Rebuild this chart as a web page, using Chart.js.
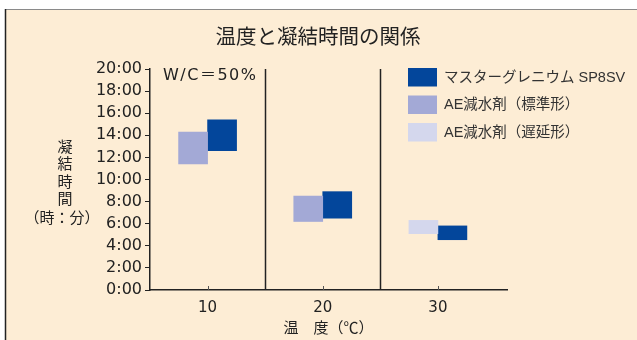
<!DOCTYPE html>
<html>
<head>
<meta charset="utf-8">
<script src="https://cdn.jsdelivr.net/npm/chart.js@4"></script>
<style>
  html, body { margin: 0; padding: 0; background: #fff; }
  #wrap { width: 637px; height: 340px; }
</style>
</head>
<body>
<div id="wrap"><canvas id="setChart" width="637" height="340"></canvas></div>
<script>
// temperatures (°C)
const temps = [10, 20, 30];
// setting time ranges [start, end] in hours
const sp8svData = [[12.6, 15.4], [6.5, 8.9], [4.55, 5.8]];
const aeStdData = [[11.4, 14.3], [6.2, 8.5], null];
const aeRetData = [null, null, [5.1, 6.3]];
const yTicks = [0, 2, 4, 6, 8, 10, 12, 14, 16, 18, 20];

const JP = '"Noto Sans CJK JP", sans-serif';
const NUM = '"Liberation Sans", "Noto Sans CJK JP", sans-serif';
const WIDE = '"DejaVu Sans", "Noto Sans CJK JP", sans-serif';
const BG = '#fdedd5';

const toPoints = arr => arr
    .map((v, i) => v ? { x: temps[i], y: v } : null)
    .filter(p => p);

// page background + frame
const framePlugin = {
    id: 'frame',
    beforeDraw(chart) {
        const ctx = chart.ctx;
        ctx.save();
        ctx.fillStyle = '#fff';
        ctx.fillRect(0, 0, chart.width, chart.height);
        ctx.fillStyle = BG;
        ctx.fillRect(5, 9, chart.width - 5, chart.height - 9);
        ctx.strokeStyle = '#8a8a8a';
        ctx.lineWidth = 1;
        ctx.beginPath();
        ctx.moveTo(5, 9.5);
        ctx.lineTo(chart.width, 9.5);
        ctx.stroke();
        ctx.strokeStyle = '#222';
        ctx.lineWidth = 1.5;
        ctx.beginPath();
        ctx.moveTo(5.5, 9);
        ctx.lineTo(5.5, chart.height);
        ctx.stroke();
        ctx.restore();
    }
};

// separators, inner ticks, titles, legend
const decorPlugin = {
    id: 'decor',
    afterDraw(chart) {
        const ctx = chart.ctx;
        const xs = chart.scales.x;
        const area = chart.chartArea;
        ctx.save();
        ctx.strokeStyle = '#222';
        ctx.lineWidth = 1.5;
        for (let i = 0; i < temps.length - 1; i++) {
            const px = Math.round(xs.getPixelForValue((temps[i] + temps[i + 1]) / 2)) + 0.5;
            ctx.beginPath();
            ctx.moveTo(px, area.top);
            ctx.lineTo(px, area.bottom);
            ctx.stroke();
        }
        ctx.lineWidth = 1;
        ctx.strokeStyle = '#555';
        temps.forEach(t => {
            const px = Math.round(xs.getPixelForValue(t)) + 0.5;
            ctx.beginPath();
            ctx.moveTo(px, area.bottom);
            ctx.lineTo(px, area.bottom - 4);
            ctx.stroke();
        });

        ctx.fillStyle = '#222';
        ctx.textAlign = 'center';
        ctx.textBaseline = 'middle';
        ctx.font = '20.5px ' + JP;
        ctx.fillText('温度と凝結時間の関係', 318, 36);

        ctx.font = '16px ' + WIDE;
        ctx.textAlign = 'left';
        ctx.letterSpacing = '1.5px';
        ctx.fillText('W/C＝50%', 163, 76);
        ctx.letterSpacing = '0px';

        ctx.font = '15px ' + JP;
        ctx.textAlign = 'center';
        ['凝', '結', '時', '間'].forEach((c, i) => ctx.fillText(c, 65, 146 + i * 17.5));
        ctx.fillText('（時：分）', 62, 217);

        // legend
        ctx.font = '14.5px ' + NUM;
        ctx.textAlign = 'left';
        chart.data.datasets.forEach((ds, i) => {
            const y = 68 + i * 27.5;
            ctx.fillStyle = ds.backgroundColor;
            ctx.fillRect(408, y, 29, 18.5);
            ctx.fillStyle = '#333';
            ctx.fillText(ds.label, 444, y + 9.5);
        });
        ctx.restore();
    }
};

new Chart(document.getElementById('setChart'), {
    type: 'bar',
    data: {
        datasets: [
            {
                label: 'マスターグレニウム SP8SV',
                data: toPoints(sp8svData),
                backgroundColor: '#03469b',
                stack: 'sp',
                order: 2
            },
            {
                label: 'AE減水剤（標準形）',
                data: toPoints(aeStdData),
                backgroundColor: '#a3a9d6',
                stack: 'ae',
                order: 1
            },
            {
                label: 'AE減水剤（遅延形）',
                data: toPoints(aeRetData),
                backgroundColor: '#d4d7ed',
                stack: 'ae',
                order: 1
            }
        ]
    },
    options: {
        responsive: false,
        animation: false,
        barThickness: 29,
        layout: { padding: { top: 69, right: 130, left: 0, bottom: 0 } },
        plugins: {
            legend: { display: false },
            tooltip: { enabled: false }
        },
        scales: {
            x: {
                type: 'linear',
                offset: false,
                min: 5,
                max: 36,
                afterBuildTicks: s => { s.ticks = temps.map(v => ({ value: v })); },
                afterFit: s => { s.height = 50; },
                grid: { display: false, drawTicks: false, offset: false },
                border: { display: true, color: '#222', width: 1.5 },
                ticks: {
                    padding: 9,
                    color: '#222',
                    autoSkip: false,
                    maxRotation: 0,
                    font: { family: WIDE, size: 15 }
                },
                title: {
                    display: true,
                    text: '温　度（℃）',
                    color: '#222',
                    font: { family: JP, size: 15 },
                    padding: { top: 0, bottom: 4 }
                }
            },
            y: {
                stacked: false,
                min: 0,
                max: 20,
                afterBuildTicks: s => { s.ticks = yTicks.map(v => ({ value: v })); },
                afterFit: s => { s.width = 150; },
                grid: { drawOnChartArea: false, drawTicks: true, tickLength: 5, color: '#222' },
                border: { display: true, color: '#222', width: 1.5 },
                ticks: {
                    padding: 3,
                    color: '#222',
                    autoSkip: false,
                    font: { family: WIDE, size: 16 },
                    callback: v => v + ':00'
                }
            }
        }
    },
    plugins: [framePlugin, decorPlugin]
});
</script>
</body>
</html>
